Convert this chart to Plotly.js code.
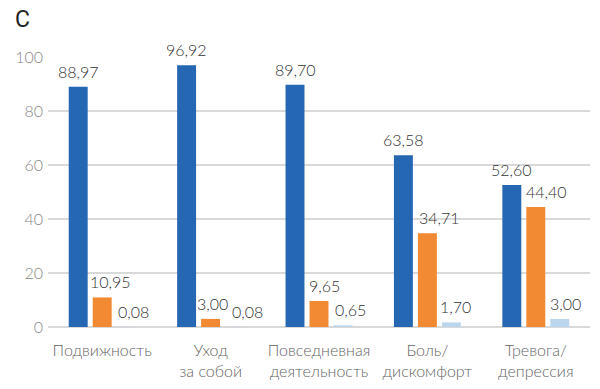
<!DOCTYPE html>
<html>
<head>
<meta charset="utf-8">
<script src="https://cdn.plot.ly/plotly-3.0.1.min.js"></script>
<style>html,body{margin:0;padding:0;background:#fff;}#chart{width:600px;height:389px;}</style>
</head>
<body>
<div id="chart"></div>
<script>
var categories = ["Подвижность", "Уход<br>за собой", "Повседневная<br>деятельность", "Боль/<br>дискомфорт", "Тревога/<br>депрессия"];
var series1 = [88.97, 96.92, 89.70, 63.58, 52.60];
var series2 = [10.95, 3.00, 9.65, 34.71, 44.40];
var series3 = [0.08, 0.08, 0.65, 1.70, 3.00];
var tickVals = [0, 20, 40, 60, 80, 100];

var allSeries = [series1, series2, series3];
var colors = ["#2667b3", "#f28933", "#bcd6ee"];
var barSlotPx = 24;   // pixel spacing between bars inside a group
// horizontal label nudges (px) as the labels were placed in the original
var labelNudgePx = [
  [0, 0, 0, 0, 0],
  [8, 2, 5, 12, 11],
  [7, 13, 7, 4, 6]
];

var data = allSeries.map(function (s, i) {
  return {type: "bar", x: categories, y: s, marker: {color: colors[i]},
          textposition: "none", hoverinfo: "skip"};
});

var annotations = [];
allSeries.forEach(function (s, i) {
  s.forEach(function (v, j) {
    annotations.push({
      x: categories[j], y: v, xref: "x", yref: "y",
      text: v.toFixed(2).replace(".", ","),
      showarrow: false, xanchor: "center", yanchor: "bottom",
      xshift: (i - 1) * barSlotPx + labelNudgePx[i][j], yshift: 4,
      font: {family: "Lato, 'Open Sans', sans-serif", size: 16, color: "#333", weight: 300}
    });
  });
});
annotations.push({text: "C", xref: "paper", yref: "paper", x: -0.064, y: 1.0, yshift: 38,
  xanchor: "left", yanchor: "middle", showarrow: false,
  font: {family: "'Liberation Sans Narrow', Roboto, sans-serif", size: 23, color: "#222"}});

var layout = {
  width: 600, height: 389,
  margin: {l: 48, r: 10, t: 57, b: 62},
  showlegend: false,
  barmode: "group", bargap: 0.336, bargroupgap: 0.21,
  paper_bgcolor: "#fff", plot_bgcolor: "#fff",
  font: {family: "Lato, 'Open Sans', sans-serif"},
  annotations: annotations,
  xaxis: {tickfont: {size: 16, color: "#666", weight: 300}, showline: false, ticks: "", ticklabelstandoff: 12, fixedrange: true},
  yaxis: {range: [0, 100], tickvals: tickVals, showgrid: true, gridcolor: "#d9d9d9", gridwidth: 1.5,
    zeroline: true, zerolinecolor: "#d9d9d9", zerolinewidth: 1.5,
    tickfont: {size: 16, color: "#888", weight: 300}, ticks: "", ticklabelstandoff: 4, fixedrange: true}
};
Plotly.newPlot("chart", data, layout, {displayModeBar: false, staticPlot: true});
</script>
</body>
</html>
